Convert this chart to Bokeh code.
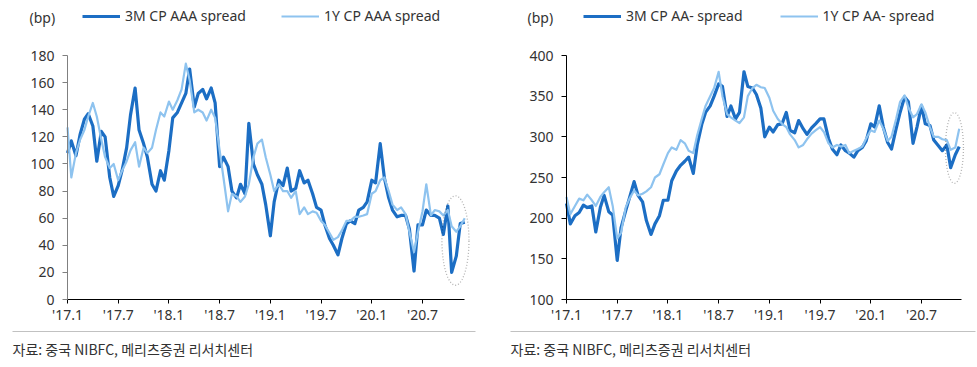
import numpy as np
import pandas as pd
from bokeh.plotting import figure
from bokeh.layouts import row
from bokeh.models import Range1d, FixedTicker, Legend, LegendItem, Label, PolyAnnotation
from bokeh.embed import file_html
from bokeh.resources import INLINE

FONT = "Noto Sans"
FONT_KR = "Noto Sans CJK KR"
DARK = "#1C6EC4"
LIGHT = "#8EC3EF"

# semi-monthly observation dates (1st and 15th)
dates = pd.date_range("2017-01-01", periods=95, freq="SMS")

tick_months = [0, 6, 12, 18, 24, 30, 36, 42]
tick_labels = ["'17.1", "'17.7", "'18.1", "'18.7", "'19.1", "'19.7", "'20.1", "'20.7"]

# Left chart: CP AAA spreads (bp)
aaa_3m = [108, 117, 106, 122, 133, 137, 128, 102, 124, 120,
          90, 76, 84, 95, 112, 136, 156, 125, 115, 105,
          85, 80, 95, 88, 110, 134, 138, 145, 152, 170,
          142, 152, 155, 148, 156, 145, 98, 105, 98, 80,
          75, 85, 78, 130, 100, 92, 85, 70, 47, 72,
          88, 84, 97, 80, 82, 95, 86, 88, 78, 68,
          66, 55, 45, 40, 33, 45, 56, 58, 56, 66,
          68, 72, 88, 86, 115, 90, 75, 66, 61, 62,
          62, 52, 21, 55, 55, 66, 62, 62, 60, 48,
          69, 20, 32, 56, 57]
aaa_1y = [127, 90, 108, 118, 125, 135, 145, 135, 118, 105,
          97, 100, 88, 95, 102, 110, 116, 98, 112, 108,
          112, 125, 138, 135, 146, 140, 147, 155, 174, 162,
          138, 140, 138, 132, 140, 134, 110, 90, 65, 78,
          76, 72, 76, 85, 105, 115, 118, 105, 92, 80,
          85, 80, 80, 75, 80, 63, 68, 63, 65, 64,
          58, 55, 49, 44, 46, 51, 58, 58, 61, 61,
          62, 63, 78, 80, 88, 90, 80, 70, 66, 68,
          63, 50, 35, 50, 65, 85, 62, 66, 65, 62,
          66, 54, 50, 54, 60]

# Right chart: CP AA- spreads (bp)
aam_3m = [218, 193, 203, 207, 216, 213, 215, 183, 213, 228,
          208, 204, 148, 188, 209, 225, 245, 228, 220, 197,
          180, 193, 203, 222, 222, 246, 258, 265, 270, 275,
          255, 290, 315, 330, 338, 350, 365, 362, 325, 338,
          322, 330, 380, 362, 360, 352, 335, 300, 312, 306,
          315, 316, 330, 308, 305, 320, 310, 303, 311, 316,
          322, 322, 298, 285, 278, 290, 283, 280, 275, 283,
          287, 295, 316, 312, 338, 312, 293, 285, 310, 330,
          349, 343, 292, 312, 338, 316, 314, 296, 289, 283,
          290, 262, 278, 288]
aam_1y = [226, 205, 215, 224, 222, 229, 222, 215, 226, 232,
          238, 215, 175, 182, 213, 224, 234, 228, 230, 233,
          238, 250, 254, 266, 280, 287, 284, 296, 292, 283,
          280, 302, 322, 338, 350, 360, 380, 350, 328, 324,
          320, 317, 324, 350, 360, 364, 361, 360, 348, 332,
          322, 316, 312, 303, 296, 287, 290, 297, 304, 308,
          312, 306, 292, 287, 290, 288, 290, 280, 283, 285,
          288, 298, 308, 306, 320, 310, 295, 300, 322, 343,
          351, 336, 324, 328, 340, 330, 312, 300, 300, 297,
          296, 284, 287, 310]

SOURCE = "자료: 중국 NIBFC, 메리츠증권 리서치센터"
UNIT = "(bp)"

W_H = 367          # figure height (px)
PX_MONTH = 8.452   # horizontal scale, px per month


def month_index(ds):
    return [(d.year - 2017) * 12 + (d.month - 1) + (d.day - 1) / d.days_in_month for d in ds]


def make_chart(fw, x0_px, xend, ymin, ymax, ystep, px_unit, s3m, s1y, lab3m, lab1y,
               yaxis_color, unit_x, legend_x, legend_spacing, ell, src_x, rule_x1):
    # frame covers the whole figure; axes are placed with fixed_location
    x_start = -x0_px / PX_MONTH
    x_end = (fw - x0_px) / PX_MONTH
    y_start = ymin - (W_H - 299) / px_unit
    y_end = ymin + 299 / px_unit
    p = figure(frame_width=fw, frame_height=W_H, output_backend="svg", toolbar_location=None,
               x_range=Range1d(x_start, x_end), y_range=Range1d(y_start, y_end),
               min_border=0)
    p.outline_line_color = None
    p.xgrid.visible = False
    p.ygrid.visible = False
    p.background_fill_color = "white"
    p.border_fill_color = "white"

    x = month_index(dates[:len(s3m)])
    r3 = p.line(x, s3m, line_color=DARK, line_width=3.2, line_join="round")
    r1 = p.line(x, s1y, line_color=LIGHT, line_width=2.2, line_join="round")

    p.xaxis.fixed_location = ymin
    p.xaxis.bounds = (0, xend)
    p.yaxis.fixed_location = 0
    p.yaxis.bounds = (ymin, ymax)
    p.xaxis.ticker = FixedTicker(ticks=tick_months)
    p.xaxis.major_label_overrides = {m: l for m, l in zip(tick_months, tick_labels)}
    p.yaxis.ticker = FixedTicker(ticks=list(range(ymin, ymax + 1, ystep)))
    for ax in (p.xaxis, p.yaxis):
        ax.major_label_text_font = FONT
        ax.major_label_text_font_size = "14px"
        ax.major_label_text_color = "#333333"
        ax.minor_tick_line_color = None
        ax.major_tick_in = 0
    p.xaxis.axis_line_color = "#000000"
    p.xaxis.major_tick_line_color = "#000000"
    p.xaxis.major_tick_out = 4
    p.xaxis.major_label_standoff = 1
    p.yaxis.axis_line_color = yaxis_color
    p.yaxis.major_tick_line_color = yaxis_color
    p.yaxis.major_tick_out = 5
    p.yaxis.major_label_standoff = 8

    legend = Legend(items=[LegendItem(label=lab3m, renderers=[r3]),
                           LegendItem(label=lab1y, renderers=[r1])],
                    orientation="horizontal", location=(legend_x, W_H - 25),
                    glyph_width=38, glyph_height=16, label_height=16,
                    label_standoff=5, spacing=legend_spacing, padding=0, margin=0,
                    border_line_color=None, background_fill_alpha=0,
                    label_text_font=FONT, label_text_font_size="14px",
                    label_text_color="#333333")
    p.add_layout(legend, "center")
    p.add_layout(Label(x=unit_x, y=W_H - 17, x_units="screen", y_units="screen", text=UNIT,
                       text_font=FONT, text_font_size="14px", text_color="#333333",
                       text_baseline="middle"))

    cx, cy, w, h = ell
    th = np.linspace(0, 2 * np.pi, 90)
    p.add_layout(PolyAnnotation(xs=list(cx + w / 2 * np.cos(th)), ys=list(cy + h / 2 * np.sin(th)),
                                line_color="#000000", line_width=1.3, line_dash="1 2",
                                fill_alpha=0))

    p.add_layout(PolyAnnotation(xs=[src_x, rule_x1], ys=[W_H - 331, W_H - 331],
                                xs_units="screen", ys_units="screen",
                                line_color="#333333", line_width=1, fill_alpha=0))
    p.add_layout(Label(x=src_x, y=W_H - 348, x_units="screen", y_units="screen", text=SOURCE,
                       text_font=FONT_KR, text_font_size="14px", text_color="#333333",
                       text_baseline="middle"))
    return p


p1 = make_chart(490, 67, 47.0, 0, 180, 20, 244 / 180, aaa_3m, aaa_1y,
                "3M CP AAA spread", "1Y CP AAA spread", "#808080", 29, 82, 35,
                (45.9, 43.5, 3.2, 66), 12, 475)
p2 = make_chart(487, 76, 46.75, 100, 400, 50, 244 / 300, aam_3m, aam_1y,
                "3M CP AA- spread", "1Y CP AA- spread", "#000000", 37, 93, 37,
                (45.9, 286.3, 2.13, 87), 20, 485)

layout = row(p1, p2, spacing=0)
open("out.html", "w").write(file_html(layout, INLINE))
